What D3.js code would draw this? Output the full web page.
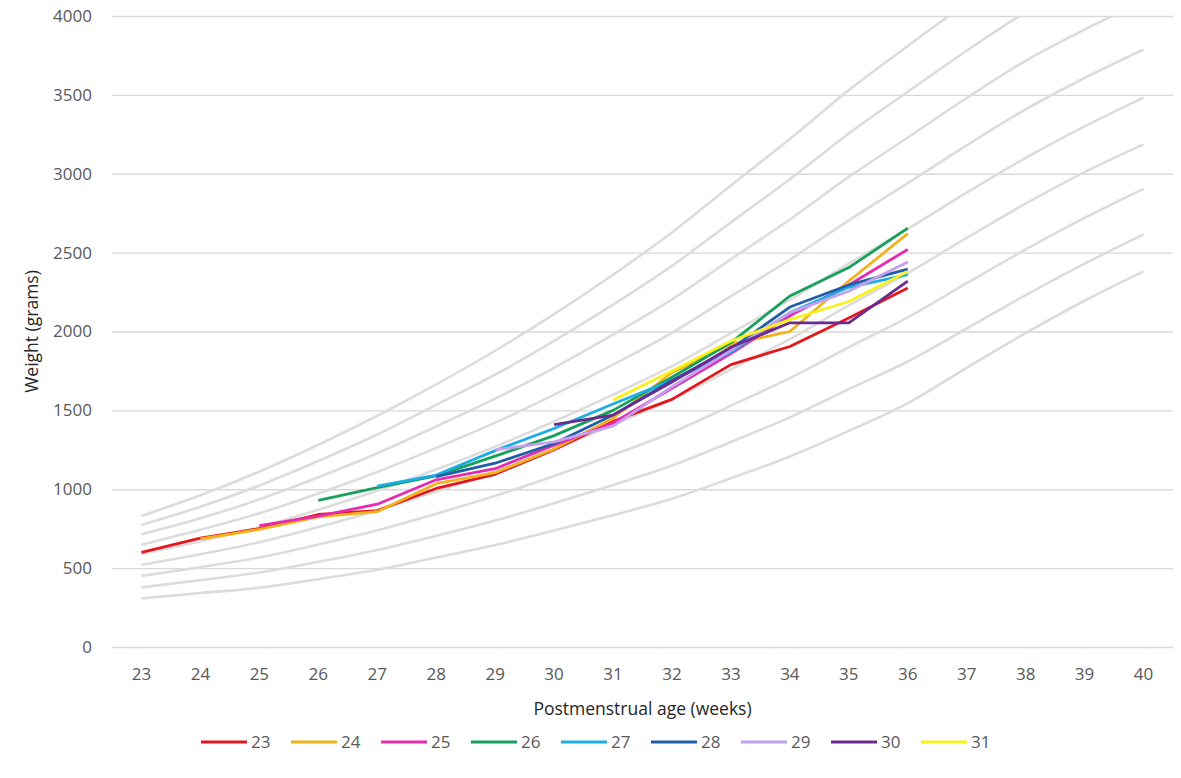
<!DOCTYPE html>
<html>
<head>
<meta charset="utf-8">
<script src="https://cdn.jsdelivr.net/npm/d3@7"></script>
<style>
  html, body { margin: 0; padding: 0; background: #ffffff; }
  svg { display: block; }
  text { font-family: "Open Sans", "Noto Sans", sans-serif; }
</style>
</head>
<body>
<svg id="chart" width="1181" height="778"></svg>
<script>
// ---------- DATA ----------
const weeks = [23, 24, 25, 26, 27, 28, 29, 30, 31, 32, 33, 34, 35, 36, 37, 38, 39, 40];
const yTicks = [0, 500, 1000, 1500, 2000, 2500, 3000, 3500, 4000];

// grey reference curves (top to bottom), one value per week 23..40
const ref1 = [831, 962, 1112, 1282, 1466, 1665, 1878, 2110, 2360, 2628, 2926, 3220, 3530, 3810, 4080, 4332, 4528, 4703];
const ref2 = [774, 889, 1024, 1179, 1347, 1535, 1726, 1940, 2170, 2416, 2692, 2965, 3255, 3520, 3780, 4024, 4221, 4398];
const ref3 = [715, 816, 936, 1076, 1228, 1398, 1574, 1770, 1980, 2204, 2458, 2710, 2980, 3230, 3480, 3716, 3914, 4093];
const ref4 = [648, 743, 848, 973, 1109, 1262, 1422, 1600, 1790, 1992, 2224, 2455, 2705, 2940, 3180, 3408, 3607, 3788];
const ref5 = [589, 670, 760, 870, 990, 1125, 1270, 1430, 1600, 1780, 1990, 2200, 2430, 2650, 2880, 3100, 3300, 3483];
const ref6 = [521, 588, 664, 760, 865, 985, 1114, 1257, 1409, 1570, 1760, 1952, 2165, 2370, 2593, 2810, 3010, 3186];
const ref7 = [451, 506, 568, 650, 740, 845, 958, 1084, 1218, 1360, 1530, 1704, 1900, 2090, 2306, 2520, 2720, 2904];
const ref8 = [378, 424, 472, 540, 615, 705, 802, 911, 1027, 1150, 1300, 1456, 1635, 1810, 2019, 2230, 2430, 2616];
const ref9 = [308, 342, 376, 430, 490, 567, 646, 738, 836, 940, 1070, 1208, 1370, 1545, 1770, 1990, 2195, 2381];

// cohort series (gestational age at birth) – values from the cohort's start week onwards
const cohortNames = ["23", "24", "25", "26", "27", "28", "29", "30", "31"];
const cohortStart = [23, 24, 25, 26, 27, 28, 29, 30, 31];
const s23 = [600, 690, 750, 840, 865, 1005, 1095, 1250, 1430, 1570, 1790, 1905, 2085, 2275];
const s24 = [685, 745, 825, 858, 1035, 1105, 1255, 1450, 1740, 1920, 2000, 2320, 2620];
const s25 = [770, 830, 905, 1060, 1130, 1280, 1420, 1640, 1860, 2100, 2295, 2520];
const s26 = [930, 1010, 1085, 1210, 1340, 1500, 1710, 1930, 2225, 2405, 2655];
const s27 = [1020, 1090, 1245, 1385, 1540, 1690, 1870, 2120, 2280, 2360];
const s28 = [1080, 1165, 1290, 1470, 1690, 1890, 2155, 2295, 2395];
const s29 = [1250, 1300, 1400, 1650, 1880, 2120, 2255, 2440];
const s30 = [1410, 1470, 1680, 1900, 2055, 2055, 2320];
const s31 = [1565, 1750, 1940, 2075, 2190, 2380];
const cohortColors = ["#e3171d", "#f2b21b", "#e52bb0", "#17a05a", "#1cade4", "#1f5ea8", "#c5a0ee", "#6a2b90", "#f7f21e"];

// ---------- LAYOUT ----------
const svg = d3.select("#chart");
const plot = { left: 112, right: 1173, top: 16, bottom: 647 };

const x = d3.scaleBand().domain(weeks).range([plot.left, plot.right]);
const xc = w => x(w) + x.bandwidth() / 2;
const y = d3.scaleLinear().domain([0, 4000]).range([plot.bottom, plot.top]);

svg.append("defs").append("clipPath").attr("id", "plotClip")
  .append("rect").attr("x", plot.left).attr("y", plot.top)
  .attr("width", plot.right - plot.left).attr("height", plot.bottom - plot.top);

// gridlines
const yAxis = d3.axisLeft(y).tickValues(yTicks).tickFormat(d3.format("d"))
  .tickSize(-(plot.right - plot.left)).tickPadding(20);
const gy = svg.append("g").attr("transform", `translate(${plot.left},0)`).call(yAxis);
gy.select(".domain").remove();
gy.selectAll(".tick line").attr("stroke", "#d9d9d9").attr("stroke-width", 1.3);
gy.selectAll(".tick text").attr("fill", "#595959").style("font-size", "17px");

const xAxis = d3.axisBottom(x).tickSize(0).tickPadding(21);
const gx = svg.append("g").attr("transform", `translate(0,${plot.bottom})`).call(xAxis);
gx.select(".domain").remove();
gx.selectAll(".tick text").attr("fill", "#595959").style("font-size", "17px");

// reference curves
const refCurves = [ref1, ref2, ref3, ref4, ref5, ref6, ref7, ref8, ref9];
const refLine = d3.line().x((d, i) => xc(weeks[i])).y(d => y(d)).curve(d3.curveMonotoneX);
svg.append("g").attr("clip-path", "url(#plotClip)")
  .selectAll("path").data(refCurves).join("path")
  .attr("d", refLine)
  .attr("fill", "none").attr("stroke", "#dcdcdc").attr("stroke-width", 2.6);

// cohort lines
const cohortSeries = [s23, s24, s25, s26, s27, s28, s29, s30, s31];
const cohortData = cohortSeries.map((vals, k) => vals.map((v, i) => ({ w: cohortStart[k] + i, v })));
const line = d3.line().x(d => xc(d.w)).y(d => y(d.v));
svg.append("g").attr("clip-path", "url(#plotClip)")
  .selectAll("path").data(cohortData).join("path")
  .attr("d", line)
  .attr("fill", "none")
  .attr("stroke", (d, k) => cohortColors[k])
  .attr("stroke-width", 2.8)
  .attr("stroke-linejoin", "round");

// axis titles
svg.append("text")
  .attr("transform", `translate(38,${(plot.top + plot.bottom) / 2}) rotate(-90)`)
  .attr("text-anchor", "middle")
  .attr("fill", "#262626").style("font-size", "17.5px")
  .text("Weight (grams)");
svg.append("text")
  .attr("x", (plot.left + plot.right) / 2).attr("y", 715)
  .attr("text-anchor", "middle")
  .attr("fill", "#262626").style("font-size", "17.5px")
  .text("Postmenstrual age (weeks)");

// legend
const legend = svg.append("g").attr("transform", "translate(201,742)");
const li = legend.selectAll("g").data(cohortNames).join("g")
  .attr("transform", (d, i) => `translate(${i * 90},0)`);
li.append("line").attr("x1", 0).attr("x2", 46).attr("y1", 0).attr("y2", 0)
  .attr("stroke", (d, i) => cohortColors[i]).attr("stroke-width", 3);
li.append("text").attr("x", 50).attr("y", 6)
  .attr("fill", "#595959").style("font-size", "17px")
  .text(d => d);
</script>
</body>
</html>
